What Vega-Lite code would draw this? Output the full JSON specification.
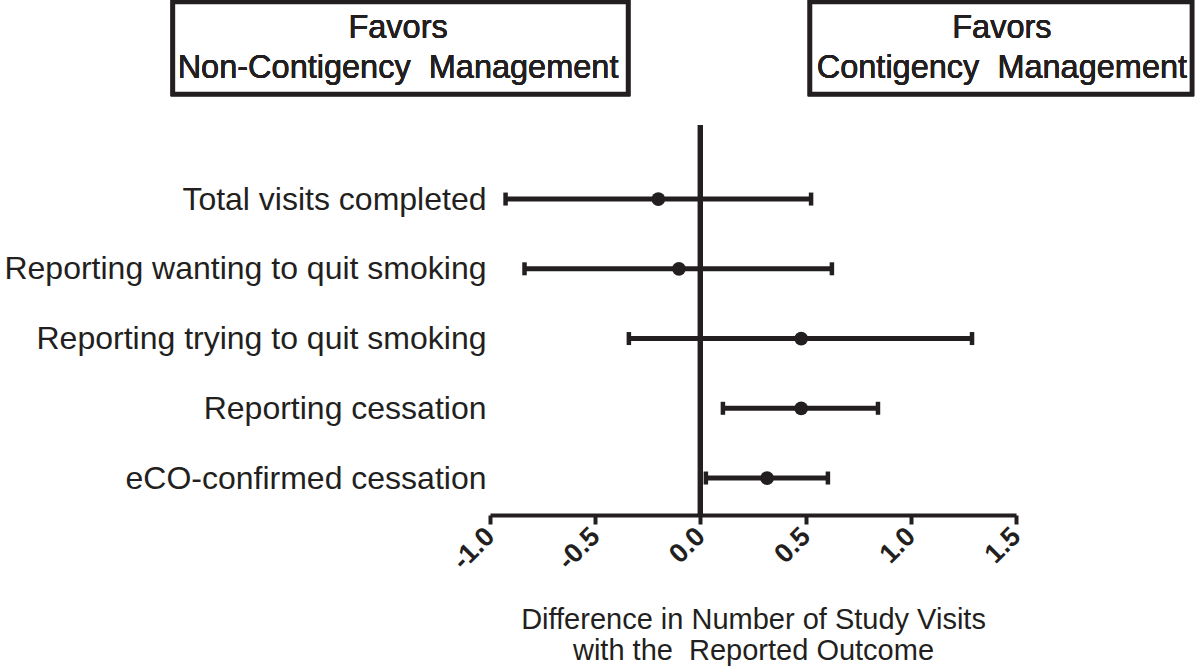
{
  "$schema": "https://vega.github.io/schema/vega-lite/v6.json",
  "autosize": "none",
  "padding": {"left": 490, "top": 125, "right": 184, "bottom": 151},
  "width": 526,
  "height": 390,
  "background": "white",
  "config": {"view": {"stroke": null}, "font": "Liberation Sans"},
  "data": {"values": [
    {"outcome": "Total visits completed", "est": -0.2, "lo": -0.926, "hi": 0.526},
    {"outcome": "Reporting wanting to quit smoking", "est": -0.102, "lo": -0.836, "hi": 0.625},
    {"outcome": "Reporting trying to quit smoking", "est": 0.479, "lo": -0.34, "hi": 1.291},
    {"outcome": "Reporting cessation", "est": 0.479, "lo": 0.107, "hi": 0.844},
    {"outcome": "eCO-confirmed cessation", "est": 0.317, "lo": 0.026, "hi": 0.606}
  ]},
  "layer": [
    {
      "encoding": {
        "y": {"field": "outcome", "type": "nominal", "sort": null,
          "scale": {"type": "point", "padding": 0.796, "align": 0.667},
          "axis": {"title": null, "domain": false, "ticks": false, "labelPadding": 4,
            "labelFontSize": 32, "labelColor": "#231f20", "labelLimit": 0, "labelFont": "Liberation Sans"}}
      },
      "layer": [
        {"mark": {"type": "rule", "color": "#231f20", "strokeWidth": 5},
         "encoding": {"x": {"datum": 0, "type": "quantitative"}, "y": null}},
        {"mark": {"type": "rule", "color": "#231f20", "strokeWidth": 5},
         "encoding": {
           "x": {"field": "lo", "type": "quantitative",
             "scale": {"domain": [-1, 1.5], "nice": false, "zero": false},
             "axis": {"values": [-1, -0.5, 0, 0.5, 1, 1.5], "format": ".1f", "grid": false,
               "labelExpr": "replace(datum.label, '\u2212', '-')",
               "domainWidth": 4, "domainColor": "#231f20", "tickWidth": 4, "tickColor": "#231f20", "tickSize": 9,
               "labelAngle": -45, "labelAlign": "right", "labelBaseline": "middle", "labelPadding": 8,
               "labelFontSize": 27, "labelFontWeight": "bold", "labelColor": "#231f20", "labelFont": "Liberation Sans",
               "labelFlush": false, "labelOverlap": false,
               "title": ["Difference in Number of Study Visits", "with the\u00a0 Reported Outcome"],
               "titleFontSize": 29, "titleFontWeight": "normal", "titleColor": "#231f20", "titleFont": "Liberation Sans",
               "titleBaseline": "alphabetic", "titleY": 113, "titleLineHeight": 31}},
           "x2": {"field": "hi"}
         }},
        {"mark": {"type": "tick", "color": "#231f20", "thickness": 4.5, "size": 13, "opacity": 1},
         "encoding": {"x": {"field": "lo", "type": "quantitative"}}},
        {"mark": {"type": "tick", "color": "#231f20", "thickness": 4.5, "size": 13, "opacity": 1},
         "encoding": {"x": {"field": "hi", "type": "quantitative"}}},
        {"mark": {"type": "point", "filled": true, "color": "#231f20", "size": 190, "opacity": 1},
         "encoding": {"x": {"field": "est", "type": "quantitative"}}}
      ]
    },
    {
      "layer": [
        {"mark": {"type": "rect", "fill": "white", "stroke": "#231f20", "strokeWidth": 4.5},
         "encoding": {
           "x": {"datum": -2.507, "type": "quantitative"}, "x2": {"datum": -0.344},
           "y": {"datum": 1.0795, "type": "quantitative", "scale": {"domain": [0, 1]}, "axis": null},
           "y2": {"datum": 1.3154}}},
        {"mark": {"type": "rect", "fill": "white", "stroke": "#231f20", "strokeWidth": 4.5},
         "encoding": {
           "x": {"datum": 0.521, "type": "quantitative"}, "x2": {"datum": 2.336},
           "y": {"datum": 1.0795, "type": "quantitative", "scale": {"domain": [0, 1]}, "axis": null},
           "y2": {"datum": 1.3154}}},
        {"mark": {"type": "text", "fontSize": 32.5, "color": "#231f20", "align": "center", "baseline": "alphabetic", "lineBreak": "\n", "lineHeight": 40, "font": "Liberation Sans"},
         "encoding": {
           "x": {"datum": -1.437, "type": "quantitative"},
           "y": {"datum": 1.2231, "type": "quantitative", "scale": {"domain": [0, 1]}, "axis": null},
           "text": {"value": "Favors\nNon-Contigency\u00a0 Management"}}},
        {"mark": {"type": "text", "fontSize": 32.5, "color": "#231f20", "align": "center", "baseline": "alphabetic", "lineBreak": "\n", "lineHeight": 40, "font": "Liberation Sans"},
         "encoding": {
           "x": {"datum": 1.433, "type": "quantitative"},
           "y": {"datum": 1.2231, "type": "quantitative", "scale": {"domain": [0, 1]}, "axis": null},
           "text": {"value": "Favors\nContigency\u00a0 Management"}}}
      ]
    }
  ],
  "resolve": {"scale": {"y": "independent"}}
}
